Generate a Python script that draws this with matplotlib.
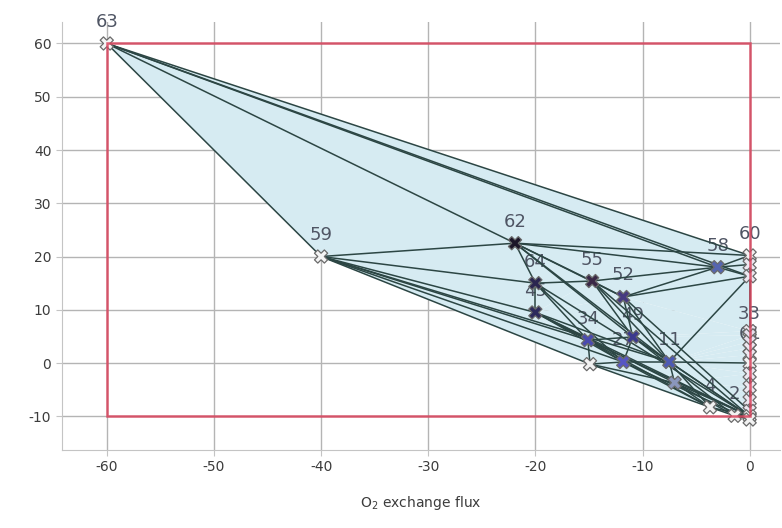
import matplotlib
matplotlib.use('Agg')
import matplotlib.pyplot as plt
import matplotlib.tri as mtri
from matplotlib.collections import PolyCollection, LineCollection
from matplotlib.patches import Rectangle
import numpy as np

plt.rcParams['font.family'] = ['DejaVu Sans']
plt.rcParams['axes.unicode_minus'] = False

# vertices of the projected flux cone (O2 exchange vs. second flux)
vertex_ids = ['63', '59', '62', '64', '45', '55', '52', '34', '49', '27', '31',
              '11', '7', '4', '2', '58',
              '60', '57', '54', '38', '33', '44', '30', '61', '20', '14', '8',
              '5', '3', '1', '0']
o2_flux = [-60, -40, -21.9, -20, -20, -14.7, -11.8, -15.1, -10.9, -11.8, -14.9,
           -7.5, -7.0, -3.7, -1.4, -3.0,
           0, 0, 0, 0, 0, 0, 0, 0, 0, 0, 0, 0, 0, 0, 0]
other_flux = [60, 20, 22.5, 15, 9.5, 15.4, 12.4, 4.3, 4.9, 0.2, -0.2,
              0.2, -3.7, -8.3, -9.9, 18.0,
              20.2, 18.5, 16.3, 6.0, 5.2, 4.0, 2.8, 1.5, 0.0, -2.0, -4.5,
              -7.0, -9.0, -10.0, -10.6]
vertex_colors = ['#f4f4f4', '#f4f4f4', '#1c1528', '#2b2550', '#2d2a5c', '#3a2847',
                 '#463a80', '#4a4ab0', '#3b3a8e', '#5656c4', '#f2f2f2',
                 '#4d5ab4', '#8a96bc', '#f2f2f2', '#f2f2f2', '#5565b0',
                 '#f2f2f2', '#ece8f0', '#ece8f0', '#ece8f0', '#e6e0ee', '#e6e0ee',
                 '#ece8f0', '#ece8f0', '#f2f2f2', '#ece8f0', '#ece8f0', '#ece8f0',
                 '#ece8f0', '#f2f2f2', '#f2f2f2']
# ids whose number is printed next to the vertex
shown_ids = ['63', '59', '62', '64', '45', '55', '52', '34', '49', '27',
             '11', '4', '2', '58', '60', '33', '61']

# adjacent vertex pairs
edges = [
    ('63', '59'), ('63', '60'), ('63', '58'), ('63', '54'), ('63', '62'),
    ('59', '62'), ('59', '64'), ('59', '45'), ('59', '34'), ('59', '27'),
    ('59', '11'), ('59', '31'),
    ('62', '60'), ('62', '58'), ('62', '55'), ('62', '64'), ('62', '52'),
    ('62', '49'), ('62', '11'),
    ('64', '45'), ('64', '55'), ('64', '34'), ('64', '27'), ('64', '1'),
    ('45', '34'), ('45', '27'), ('45', '11'), ('45', '7'), ('45', '1'),
    ('55', '52'), ('55', '58'), ('55', '49'), ('55', '11'), ('55', '1'),
    ('52', '58'), ('52', '54'), ('52', '49'), ('52', '11'), ('52', '3'),
    ('58', '60'), ('58', '57'), ('58', '54'),
    ('34', '27'), ('34', '31'), ('34', '49'), ('34', '4'), ('34', '1'),
    ('49', '27'), ('49', '11'), ('49', '1'), ('49', '2'),
    ('27', '11'), ('27', '31'), ('27', '4'), ('27', '0'),
    ('31', '4'), ('31', '7'),
    ('11', '7'), ('11', '54'), ('11', '20'), ('11', '1'), ('11', '4'),
    ('7', '4'), ('7', '2'), ('7', '1'),
    ('4', '1'), ('4', '2'), ('2', '1'), ('2', '0'),
    ('60', '57'), ('57', '54'), ('54', '38'), ('38', '33'), ('33', '44'),
    ('44', '30'), ('30', '61'), ('61', '20'), ('20', '14'), ('14', '8'),
    ('8', '5'), ('5', '3'), ('3', '1'), ('1', '0'),
]

# flux bounds
o2_bounds = (-60, 0)
other_bounds = (-10, 60)

x = np.array(o2_flux, dtype=float)
y = np.array(other_flux, dtype=float)
pos = {v: (xi, yi) for v, xi, yi in zip(vertex_ids, x, y)}

fig = plt.figure(figsize=(7.82, 5.28), dpi=100)
ax = fig.add_axes([0.079, 0.148, 0.918, 0.81])

# shaded region = convex hull, filled through a triangulation
tri = mtri.Triangulation(x, y)
verts = np.stack([x[tri.triangles], y[tri.triangles]], axis=-1)
ax.add_collection(PolyCollection(verts, facecolor='#d6ebf2', edgecolor='none', zorder=1))

segs = [[pos[a], pos[b]] for a, b in edges]
ax.add_collection(LineCollection(segs, colors='#2c4644', linewidths=1.1, zorder=3))

for v in shown_ids:
    ax.annotate(v, pos[v], xytext=(0, 9), textcoords='offset points',
                ha='center', va='bottom', fontsize=13, color='#4f5564', zorder=2)

ax.scatter(x, y, c=vertex_colors, marker='X', s=90, edgecolors='#6a6a6a',
           linewidths=0.9, zorder=5)

ax.add_patch(Rectangle((o2_bounds[0], other_bounds[0]),
                       o2_bounds[1] - o2_bounds[0], other_bounds[1] - other_bounds[0],
                       fill=False, edgecolor='#d8435c', lw=1.8, alpha=0.85, zorder=6))

ax.set_xlim(-64.2, 2.8)
ax.set_ylim(-16.3, 64)
ax.set_xticks(np.arange(-60, 1, 10))
ax.set_yticks(np.arange(-10, 61, 10))
ax.grid(True, color='#b4b4b4', lw=1)
ax.set_axisbelow(True)
for side in ['top', 'right']:
    ax.spines[side].set_visible(False)
for side in ['left', 'bottom']:
    ax.spines[side].set_color('#c4c4c4')
ax.tick_params(colors='#c4c4c4', labelcolor='#3c3c3c', labelsize=10, length=4)
ax.set_xlabel('O$_2$ exchange flux', fontsize=10, color='#3c3c3c', labelpad=14)

fig.savefig('out.png', dpi=100)
